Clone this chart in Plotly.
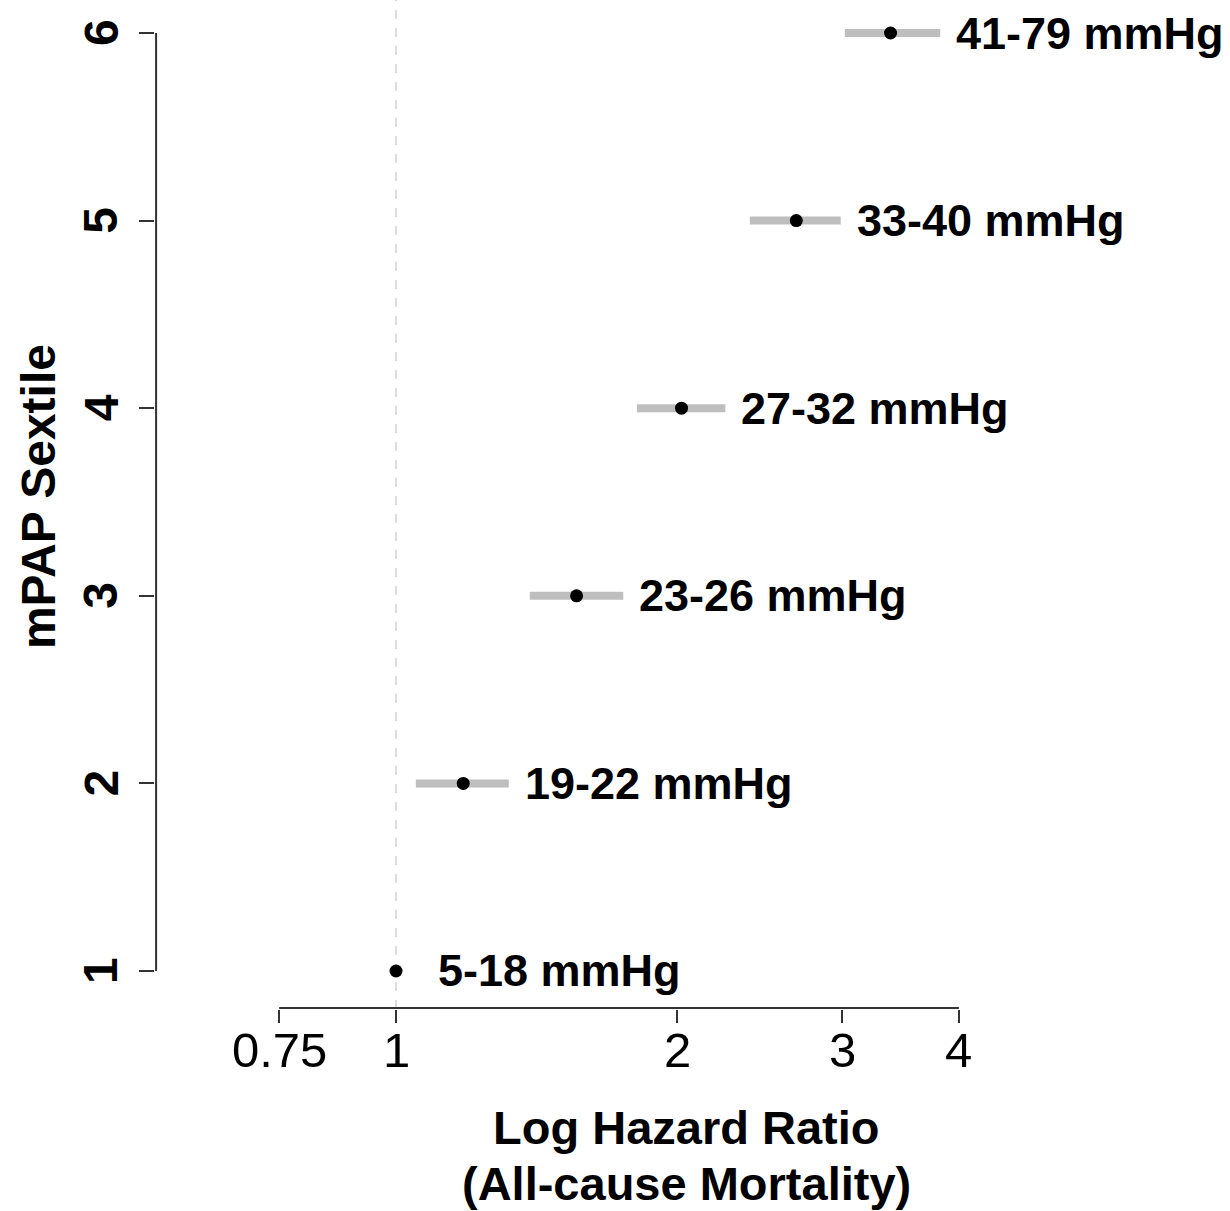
import numpy as np
import plotly.graph_objects as go

# ---- data ----
sextiles = [1, 2, 3, 4, 5, 6]
hr = [1.00, 1.18, 1.56, 2.02, 2.68, 3.38]
ci_low = [1.00, 1.05, 1.39, 1.81, 2.39, 3.02]
ci_high = [1.00, 1.32, 1.75, 2.25, 2.99, 3.82]
range_labels = ["5-18 mmHg", "19-22 mmHg", "23-26 mmHg", "27-32 mmHg", "33-40 mmHg", "41-79 mmHg"]
x_ticks = [0.75, 1, 2, 3, 4]
x_tick_text = ["0.75", "1", "2", "3", "4"]
y_ticks = [1, 2, 3, 4, 5, 6]
y_tick_text = ["1", "2", "3", "4", "5", "6"]
x_title_lines = ["Log Hazard Ratio", "(All-cause Mortality)"]
y_title = "mPAP Sextile"

FONT = "Liberation Sans, Arial, sans-serif"
AX = "#333333"

fig = go.Figure()

# CI bars
for s, lo, hi in zip(sextiles, ci_low, ci_high):
    if hi > lo:
        fig.add_trace(go.Scatter(x=[lo, hi], y=[s, s], mode="lines",
                                 line=dict(color="#bebebe", width=8),
                                 hoverinfo="skip", showlegend=False))

# points
fig.add_trace(go.Scatter(x=hr, y=sextiles, mode="markers",
                         marker=dict(color="black", size=13),
                         showlegend=False))

# labels (annotation x on a log axis is given in log10 units)
for s, hi, lo, lab in zip(sextiles, ci_high, ci_low, range_labels):
    fig.add_annotation(x=np.log10(hi), y=s, xref="x", yref="y", text=lab,
                       showarrow=False, xanchor="left", yanchor="middle",
                       xshift=(14 if hi > lo else 40), yshift=0,
                       font=dict(family=FONT, size=45, color="black", weight="bold"))

# x tick labels
for v, t in zip(x_ticks, x_tick_text):
    fig.add_annotation(x=np.log10(v), y=-0.0406, xref="x", yref="paper", text=t,
                       showarrow=False, xanchor="center", yanchor="middle",
                       font=dict(family=FONT, size=49, color="black"))

# y tick labels (rotated, R style)
for v, t in zip(y_ticks, y_tick_text):
    fig.add_annotation(x=-0.0502, y=v, xref="paper", yref="y", text=t,
                       textangle=-90, showarrow=False,
                       xanchor="center", yanchor="middle",
                       font=dict(family=FONT, size=48, color="black", weight="bold"))

# reference dashed line at HR = 1
fig.add_shape(type="line", xref="x", yref="paper",
              x0=1, x1=1, y0=0, y1=1,
              line=dict(color="#d3d3d3", width=1.5, dash="dash"), layer="below")

# R-style axis lines spanning only the tick range
fig.add_shape(type="line", xref="paper", yref="y",
              x0=0.001, x1=0.001, y0=min(y_ticks), y1=max(y_ticks),
              line=dict(color=AX, width=2))
fig.add_shape(type="line", xref="x", yref="paper",
              x0=min(x_ticks), x1=max(x_ticks), y0=0.001, y1=0.001,
              line=dict(color=AX, width=2))

# axis titles
fig.add_annotation(x=-0.1088, y=0.5074, xref="paper", yref="paper",
                   text=y_title, textangle=-90, showarrow=False,
                   xanchor="center", yanchor="middle",
                   font=dict(family=FONT, size=48, color="black", weight="bold"))
for line, yp in zip(x_title_lines, [-0.1179, -0.1734]):
    fig.add_annotation(x=0.494, y=yp, xref="paper", yref="paper",
                       text=line, showarrow=False,
                       xanchor="center", yanchor="middle",
                       font=dict(family=FONT, size=47, color="black", weight="bold"))

fig.update_layout(
    width=1230, height=1211,
    margin=dict(l=155, r=0, t=0, b=202),
    paper_bgcolor="white", plot_bgcolor="white",
    showlegend=False,
    xaxis=dict(type="log", range=[-0.2578, 0.892],
               tickvals=x_ticks, showticklabels=False,
               ticks="outside", ticklen=13, tickwidth=2, tickcolor=AX,
               showgrid=False, zeroline=False, showline=False),
    yaxis=dict(range=[0.7974, 6.176],
               tickvals=y_ticks, showticklabels=False,
               ticks="outside", ticklen=15, tickwidth=2, tickcolor=AX,
               showgrid=False, zeroline=False, showline=False),
)

fig.write_html("out.html", config={"displayModeBar": False},
               post_script="document.body.style.margin='0px';")
